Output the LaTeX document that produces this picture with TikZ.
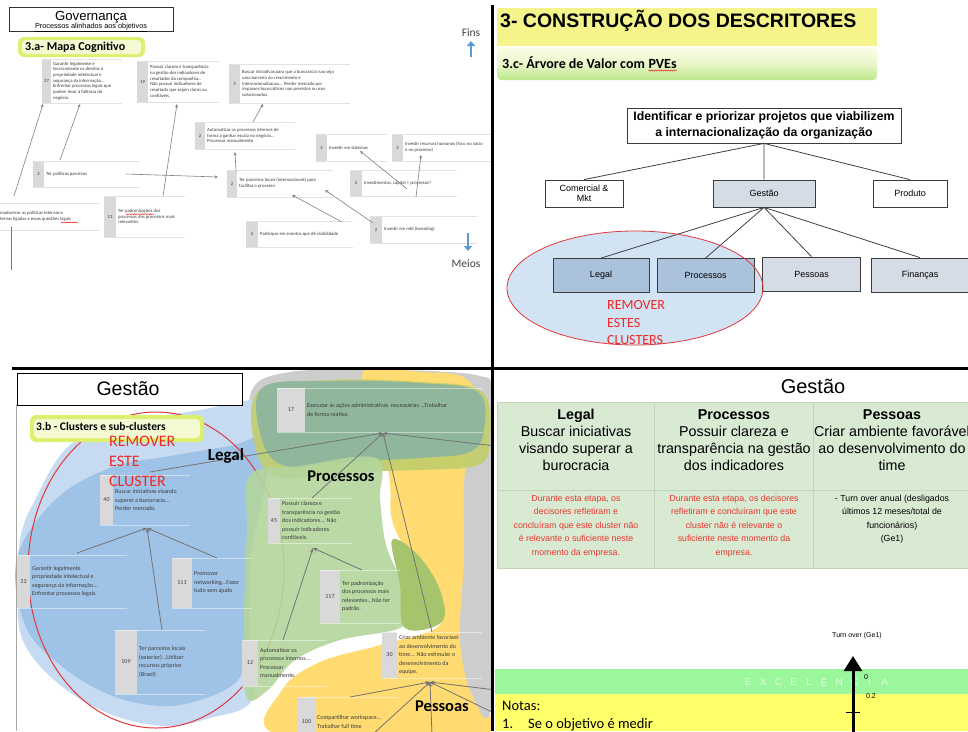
\documentclass[tikz,border=0pt]{standalone}
\usepackage{fontspec}
\setmainfont{Liberation Sans}
\newfontfamily\calfont{Carlito}
\usetikzlibrary{arrows.meta,decorations.pathmorphing}

\definecolor{cellgray}{HTML}{D9D9D9}
\definecolor{maptext}{HTML}{3A3A3A}
\definecolor{arrowgray}{HTML}{808080}
\definecolor{rowgray}{HTML}{E2E2E2}
\definecolor{finsblue}{HTML}{5B9BD5}
\definecolor{glowout}{HTML}{DDEF6E}
\definecolor{glowin}{HTML}{F6FAD2}
\definecolor{titleyellow}{HTML}{F4F48A}
\definecolor{bandtop}{HTML}{FDFDE6}
\definecolor{bandbot}{HTML}{BCE88A}
\definecolor{boxline}{HTML}{3C3C3C}
\definecolor{gestfill}{HTML}{D6DCE5}
\definecolor{gestdeep}{HTML}{ABC2DC}
\definecolor{ellfill}{HTML}{C3DAEF}
\definecolor{remred}{HTML}{F02828}
\definecolor{ellred}{HTML}{E0383A}
\definecolor{bluelight}{HTML}{C6DBF1}
\definecolor{bluemid}{HTML}{9FC3E7}
\definecolor{blobgray}{HTML}{CDCDCD}
\definecolor{pessyellow}{HTML}{FFDB72}
\definecolor{tealgreen}{HTML}{8CB6A0}
\definecolor{olivefringe}{HTML}{C2CD6C}
\definecolor{procgreen}{HTML}{B3D59C}
\definecolor{olivestrip}{HTML}{A6C46C}
\definecolor{tablegreen}{HTML}{D9EAD3}
\definecolor{tableline}{HTML}{C2D5BA}
\definecolor{notered}{HTML}{E8372F}
\definecolor{excgreen}{HTML}{9AF79B}
\definecolor{excyellow}{HTML}{FFFF6A}

\newcommand\setfs[2]{\fontsize{#1}{#2}\selectfont}
\newcommand\mapfont{\calfont\setfs{4.7}{5.7}}
% concept box of a cognitive map: name, x, y, cell width, height, number, total width, text
\newcommand\cmapbox[8]{%
  \node[mframe, minimum width=#7, minimum height=#5] (#1) at (#2,#3) {};
  \node[mcell, minimum width=#4, minimum height=#5] (#1c) at (#2,#3) {#6};
  \node[mtxt] (#1t) at ([xshift=2pt]#1c.east) {#8};
  \draw[rowline] (#1.north west) -- (#1.north east) (#1.south west) -- (#1.south east);
}

\begin{document}
\begin{tikzpicture}[x=1pt,y=-1pt,
  mframe/.style={anchor=north west, inner sep=0, outer sep=0},
  mcell/.style={anchor=north west, inner sep=0, outer sep=0, fill=cellgray, font=\mapfont, text=maptext},
  mtxt/.style={anchor=west, align=left, inner sep=0, font=\mapfont, text=maptext},
  rowline/.style={draw=rowgray, line width=.5},
  maparrow/.style={draw=arrowgray, line width=.6, -{Stealth[length=3.5pt,width=3pt]}},
  marrow/.style={draw=black!55, line width=.8, -{Stealth[length=4.5pt,width=3.5pt]}},
  finsarrow/.style={draw=finsblue, line width=2.2, -{Triangle[length=5pt,width=8pt]}},
  tbox/.style={draw=boxline, line width=.8, font=\setfs{9}{10.5}, align=center, inner sep=0, minimum height=27},
  treeline/.style={draw=black!75, line width=.8},
  clabel/.style={font=\calfont\bfseries\setfs{16.5}{18}, inner sep=0},
  remtxt/.style={anchor=base west, inner sep=0, text=remred},
  hdr/.style={align=center, font=\setfs{14.3}{17}, inner sep=0},
  cmt/.style={align=center, font=\setfs{8.8}{13.5}, inner sep=0},
  exc/.style={font=\setfs{10}{12}, text=white, opacity=.75, inner sep=0},
  divline/.style={draw=black, line width=2.5}
]
\fill[white] (0,0) rectangle (968,731);
\useasboundingbox (0,0) rectangle (968,731);

% ================= cognitive map (top left) =================
\begin{scope}
\clip (0,0) rectangle (491,367);
\node[draw=black!80, line width=.8, minimum width=164, minimum height=24, inner sep=0] (gov) at (91,19) {};
\node[font=\setfs{13.2}{15}, inner sep=0] (govt) at (91,17) {Governança};
\node[font=\setfs{7.3}{8}, inner sep=0] (govs) at (91,27.3) {\underline{Processos alinhados aos objetivos}};

\fill[glowout, rounded corners=6] (18,37) rectangle (145,57);
\fill[glowin, rounded corners=4] (22,40) rectangle (141,54);
\node[anchor=west, inner sep=0, font=\calfont\bfseries\setfs{12}{14}] (sec3a) at (25,47) {3.a- Mapa Cognitivo};

\cmapbox{A}{42}{59}{9}{44}{27}{80}{Garantir legalmente e\\tecnicamente os direitos à\\propriedade intelectual e\\segurança da informação...\\Enfrentar processos legais que\\podem levar à falência do\\negócio.}
\cmapbox{B}{137}{61}{11}{41}{19}{82}{Possuir clareza e transparência\\na gestão dos indicadores de\\resultados da companhia...\\Não possuir indicadores de\\resultado que sejam claros ou\\confiáveis.}
\cmapbox{C}{229}{64}{11}{39}{3}{121}{Buscar iniciativas para que a burocracia nao seja\\uma barreira no crescimento e\\internacionalizacao... Perder mercado por\\impasses burocráticos nao previstos ou nao\\solucionados.}
\cmapbox{D}{195}{122}{10}{27}{2}{100}{Automatizar os processos internos de\\forma a ganhar escala no negócio...\\Processar manualmente.}
\cmapbox{E}{33}{161}{11}{26}{2}{107}{Ter políticas parceiras}
\cmapbox{F}{227}{170}{10}{27}{2}{106}{Ter parceiros locais (internacionais) para\\facilitar o processo}
\cmapbox{G}{104}{196}{12}{41}{13}{81}{Ter padronizações dos\\processos dos processos mais\\relevantes.}
\cmapbox{I}{316}{134}{11}{27}{2}{71}{Investir em sistemas}
\cmapbox{J}{392}{134}{11}{27}{2}{100}{Investir recursos humanos (foco no sócio\\e no processo)}
\cmapbox{K}{246}{221}{12}{26}{2}{107}{Participar em eventos que dê visibilidade}
\cmapbox{L}{370}{216}{12}{27}{2}{107}{Investir em mkt (branding)}
\cmapbox{M}{350}{170}{12}{26}{2}{107}{Investimentos, capital + processos?}
\node[mframe, minimum width=102, minimum height=27] (H) at (-2,203) {};
\node[mtxt] (Ht) at (0,216.5) {madurecer as políticas internas e\\ternas ligadas a essas questões legais};
\draw[rowline] (H.north west) -- (H.north east) (H.south west) -- (H.south east);

% spell-check marks
\draw[remred, line width=.4, decorate, decoration={snake, amplitude=.4pt, segment length=1.6pt}] ([shift={(8,5.2)}]Gt.north west) -- ([shift={(36,5.2)}]Gt.north west);
\draw[remred, line width=.4, decorate, decoration={snake, amplitude=.4pt, segment length=1.6pt}] ([shift={(61,11)}]Ht.north west) -- ([shift={(78,11)}]Ht.north west);

\draw[maparrow] ([shift={(16,-7)}]H.north west) -- ([shift={(1,1)}]A.south west);
\draw[maparrow] ([shift={(27,-1)}]E.north west) -- ([shift={(38,1)}]A.south west);
\draw[maparrow] ([shift={(59,0)}]G.north west) -- ([shift={(40,2)}]B.south west);
\draw[maparrow] ([shift={(93,13)}]E.north west) -- ([shift={(-9,7)}]F.north west);
\draw[maparrow] ([shift={(9,1)}]F.north west) -- ([shift={(40,3)}]D.south west);
\draw[maparrow] ([shift={(58,0)}]D.north west) -- ([shift={(34,1)}]C.south west);
\draw[maparrow] ([shift={(96,1)}]K.north west) -- ([shift={(65,-2)}]F.south west);
\draw[maparrow] ([shift={(3,7)}]L.north west) -- ([shift={(98,-7)}]F.south west);
\draw[maparrow] ([shift={(57,19)}]M.north west) -- ([shift={(44,-10)}]I.south west);
\draw[maparrow] ([shift={(66,1)}]M.south west) -- ([shift={(29,-6)}]J.south west);

\coordinate (lb0) at (11,227);
\coordinate (lb1) at (11,270);
\draw[black!55, line width=.6] (lb0) -- (lb1);

\node[font=\calfont\setfs{11.5}{13}, text=black!75, inner sep=0] (fins) at (471,33) {Fins};
\coordinate (fa0) at (471,57);
\coordinate (fa1) at (471,41);
\draw[finsarrow] (fa0) -- (fa1);
\node[font=\calfont\setfs{11.5}{13}, text=black!75, inner sep=0] (meios) at (466,264) {Meios};
\coordinate (ma0) at (468,233);
\coordinate (ma1) at (468,251);
\draw[finsarrow] (ma0) -- (ma1);
\end{scope}

% ================= value tree (top right) =================
\fill[titleyellow] (497,8) rectangle (877,46);
\shade[top color=bandtop, bottom color=bandbot, middle color=bandtop!70!bandbot, rounded corners=4] (497,47) rectangle (877,80);
\node[anchor=base west, inner sep=0, font=\bfseries\setfs{19.5}{22}] (ttl) at (500,27) {3- CONSTRUÇÃO DOS DESCRITORES};
\node[anchor=base west, inner sep=0, font=\calfont\bfseries\setfs{14}{16}] (sub) at (502,68) {3.c- Árvore de Valor com};
\node[anchor=base west, inner sep=0, font=\calfont\bfseries\setfs{14}{16}] (pve) at ([xshift=3.2pt]sub.base east) {PVEs};
\draw[remred, line width=.5, decorate, decoration={snake, amplitude=.6pt, segment length=2.2pt}] ([yshift=-2.5pt]pve.base west) -- ([yshift=-2.5pt]pve.base east);

% the removed clusters are ringed by a tinted ellipse
\fill[ellfill, opacity=.75] (635,288) ellipse [x radius=128pt, y radius=57pt];

\node[tbox, font=\bfseries\setfs{12.3}{16}, minimum width=274, minimum height=35] (goal) at (764,125.5) {Identificar e priorizar projetos que viabilizem\\a internacionalização da organização};
\node[tbox, fill=white, minimum width=78] (com) at (584,193.5) {Comercial \&\\Mkt};
\node[tbox, fill=gestfill, minimum width=102] (gest) at (764,193.5) {Gestão};
\node[tbox, fill=white, minimum width=74] (prod) at (910,193.5) {Produto};
\node[tbox, fill=gestdeep, minimum width=96, minimum height=34] (legal) at (601,275.5) {Legal};
\node[tbox, fill=gestdeep, minimum width=97, minimum height=34] (proc) at (705.5,275.5) {Processos};
\node[tbox, fill=gestfill, minimum width=98, minimum height=34] (pess) at (811.5,274) {Pessoas};
\node[tbox, fill=gestfill, minimum width=97, minimum height=34] (fin) at (920,275) {Finanças};
\draw[treeline] (goal.south) -- (com.north) (goal.south) -- (gest.north) (goal.south) -- (prod.north);
\draw[treeline] (gest.south) -- (legal.north) (gest.south) -- (proc.north) (gest.south) -- (pess.north) (gest.south) -- (fin.north);
\draw[ellred, line width=.8] (635,288) ellipse [x radius=128pt, y radius=57pt];
\node[remtxt, font=\calfont\setfs{14}{16}] (rmA) at (607,309) {REMOVER};
\node[remtxt, font=\calfont\setfs{14}{16}] (rmB) at (607,327) {ESTES};
\node[remtxt, font=\calfont\setfs{14}{16}] (rmC) at (607,344) {CLUSTERS};

% ================= clusters (bottom left) =================
\begin{scope}
\renewcommand\mapfont{\calfont\setfs{6}{8.5}}
\tikzset{rowline/.style={draw=white, opacity=.45, line width=.5}}
\clip (12,369) rectangle (491,731);
\fill[blobgray] plot[smooth cycle, tension=.6] coordinates {(252,390) (290,372) (360,370) (430,371) (480,376) (492,390) (492,470) (470,468) (400,470) (300,472) (255,450)};
\fill[pessyellow] plot[smooth cycle, tension=.6] coordinates {(362,374) (420,372) (470,382) (480,440) (474,520) (468,620) (470,690) (488,735) (280,735) (282,690) (320,662) (380,645) (440,625) (436,585) (410,555) (392,520) (388,470)};
\fill[blobgray] plot[smooth cycle, tension=.6] coordinates {(466,468) (492,455) (492,700) (472,695) (460,640) (464,560)};
\fill[bluelight] plot[smooth cycle, tension=.6] coordinates {(35,500) (70,445) (130,422) (200,410) (250,400) (285,395) (275,450) (258,500) (250,560) (250,640) (252,700) (210,718) (165,726) (110,714) (60,685) (25,645) (17,600) (20,540)};
\fill[bluemid] plot[smooth cycle, tension=.6] coordinates {(17,558) (55,500) (110,468) (170,456) (230,446) (270,438) (262,500) (250,560) (248,640) (238,680) (200,700) (160,706) (110,695) (60,665) (25,625)};
\draw[ellred, line width=1] (156,570) ellipse [x radius=128pt, y radius=158pt];
\fill[olivefringe, opacity=.9] plot[smooth cycle, tension=.6] coordinates {(258,392) (330,380) (420,382) (482,392) (490,440) (478,465) (420,470) (340,472) (280,478) (256,450)};
\fill[tealgreen, opacity=.92] plot[smooth cycle, tension=.6] coordinates {(262,388) (330,381) (420,383) (478,392) (484,430) (470,452) (420,458) (340,462) (285,466) (262,440)};
\fill[procgreen, opacity=.9] plot[smooth cycle, tension=.6] coordinates {(250,475) (300,466) (376,458) (380,500) (386,545) (402,585) (405,625) (340,640) (295,660) (268,690) (246,696) (244,620) (247,530)};
\fill[olivestrip] plot[smooth cycle, tension=.6] coordinates {(392,540) (418,555) (440,590) (442,622) (405,628) (400,585)};

\coordinate (bl0) at (16.5,405);
\coordinate (bl1) at (16.5,731);
\draw[black!35, line width=.8] (bl0) -- (bl1);

\node[draw=black, line width=.8, fill=white, minimum width=225, minimum height=32, inner sep=0] (gbl) at (129.5,389) {};
\node[font=\setfs{19.5}{22}, inner sep=0] (gblt) at (128,389) {Gestão};

\fill[glowout, rounded corners=6] (30,415) rectangle (204,442);
\fill[glowin, rounded corners=4] (34,419) rectangle (200,438);
\node[anchor=west, inner sep=0, font=\calfont\bfseries\setfs{11.5}{13}] (sec3b) at (36,426) {3.b - Clusters e sub-clusters};

\cmapbox{N17}{277}{388}{28}{44}{17}{206}{Executar as ações administrativas\ \ necessárias ...Trabalhar\\de forma reativa.}
\cmapbox{N40}{100}{475}{13}{50}{40}{90}{Buscar iniciativas visando\\superar a burocracia...\\Perder mercado.}
\cmapbox{N45}{268}{498}{12}{45}{45}{85}{Possuir clareza e\\transparência na gestão\\dos indicadores... Não\\possuir indicadores\\confiáveis.}
\cmapbox{N33}{17}{555}{13}{53}{33}{110}{Garantir legalmente\\propriedade intelectual e\\segurança da informação...\\Enfrentar processos legais.}
\cmapbox{N111}{172}{558}{20}{50}{111}{80}{Promover\\networking...Fazer\\tudo sem ajuda}
\cmapbox{N109}{115}{630}{22}{64}{109}{90}{Ter parceiros locais\\(exterior)...Utilizar\\recursos próprios\\(Brasil)}
\cmapbox{N117}{320}{570}{20}{53}{117}{80}{Ter padronização\\dos processos mais\\relevantes...Não ter\\padrão.}
\cmapbox{N12}{242}{640}{16}{46}{12}{85}{Automatizar os\\processos internos...\\Processar\\manualmente.}
\cmapbox{N30}{382}{632}{15}{46}{30}{100}{Criar ambiente favorável\\ao desenvolvimento do\\time... Não estimular o\\desenvolvimento da\\equipe.}
\cmapbox{N100}{298}{697}{17}{50}{100}{100}{Compartilhar workspace...\\Trabalhar full time}

\coordinate (r17) at (496,446);
\coordinate (q1) at (372,735);
\coordinate (q2) at (432,735);
\coordinate (q3) at (496,690);
\coordinate (q4) at (496,714);
\draw[marrow] ([shift={(50,-3)}]N40.north west) -- ([shift={(106,1)}]N17.south west);
\draw[marrow] ([shift={(44,0)}]N45.north west) -- ([shift={(106,1)}]N17.south west);
\draw[marrow] ([shift={(50,0)}]N30.north west) -- ([shift={(106,1)}]N17.south west);
\draw[marrow] (r17) -- ([shift={(106,1)}]N17.south west);
\draw[marrow] ([shift={(60,-2)}]N33.north west) -- ([shift={(47,3)}]N40.south west);
\draw[marrow] ([shift={(47,0)}]N109.north west) -- ([shift={(47,3)}]N40.south west);
\draw[marrow] ([shift={(45,0)}]N111.north west) -- ([shift={(47,3)}]N40.south west);
\draw[marrow] ([shift={(42,0)}]N117.north west) -- ([shift={(45,5)}]N45.south west);
\draw[marrow] ([shift={(41,0)}]N12.north west) -- ([shift={(45,5)}]N45.south west);
\draw[marrow] ([shift={(52,0)}]N100.north west) -- ([shift={(48,4)}]N30.south west);
\draw[marrow] (q1) -- ([shift={(48,4)}]N30.south west);
\draw[marrow] (q2) -- ([shift={(48,4)}]N30.south west);
\draw[marrow] (q3) -- ([shift={(48,4)}]N30.south west);
\draw[marrow] (q4) -- ([shift={(48,4)}]N30.south west);

\node[clabel, font=\calfont\bfseries\setfs{17}{19}] (lglab) at (226,456) {Legal};
\node[clabel] (prlab) at (341,476) {Processos};
\node[clabel] (pelab) at (442,706) {Pessoas};
\node[remtxt, font=\calfont\setfs{16}{18}] (reA) at (109,446) {REMOVER};
\node[remtxt, font=\calfont\setfs{16}{18}] (reB) at (109,466) {ESTE};
\node[remtxt, font=\calfont\setfs{16}{18}] (reC) at (109,486) {CLUSTER};
\end{scope}

% ================= descriptors table (bottom right) =================
\begin{scope}
\clip (493,369) rectangle (968,731);
\node[font=\setfs{20}{24}, inner sep=0] (gbr) at (813,386) {Gestão};
\fill[tablegreen] (497,402) rectangle (968,568);
\draw[tableline, line width=.8] (497,402) rectangle (970,568);
\draw[tableline, line width=.8] (654,402) -- (654,568) (813,402) -- (813,568) (497,490) -- (970,490);
\node[hdr] (h1) at (576,440) {\textbf{Legal}\\Buscar iniciativas\\visando superar a\\burocracia};
\node[hdr] (h2) at (734,440) {\textbf{Processos}\\Possuir clareza e\\transparência na gestão\\dos indicadores};
\node[hdr] (h3) at (892,440) {\textbf{Pessoas}\\Criar ambiente favorável\\ao desenvolvimento do\\time};
\node[cmt, text=notered] (c1) at (576,526) {Durante esta etapa, os\\decisores refletiram e\\concluíram que este cluster não\\é relevante o suficiente neste\\momento da empresa.};
\node[cmt, text=notered] (c2) at (734,526) {Durante esta etapa, os decisores\\refletiram e concluíram que este\\cluster não é relevante o\\suficiente neste momento da\\empresa.};
\node[cmt] (c3) at (892,519) {- Turn over anual (desligados\\últimos 12 meses/total de\\funcionários)\\(Ge1)};

\node[font=\setfs{7}{8}, inner sep=0] (tov) at (857,636) {Turn over (Ge1)};
\fill[excgreen] (495,669) rectangle (968,694);
\fill[excyellow] (495,694) rectangle (968,731);
\foreach \ch [count=\i] in {E,X,C,E,L,Ê,N,C,I,A}
  \node[exc] (exc\i) at ({748+15.2*(\i-1)},682) {\ch};
\coordinate (axb) at (853,735);
\coordinate (axt) at (853,656);
\draw[line width=3, -{Triangle[length=15pt,width=18pt]}] (axb) -- (axt);
\coordinate (tk0) at (846,712);
\coordinate (tk1) at (860,712);
\draw[line width=1] (tk0) -- (tk1);
\node[font=\setfs{7}{8}, inner sep=0] (t0) at (866,677) {0};
\node[font=\setfs{7}{8}, inner sep=0] (t02) at (871,696) {0.2};
\node[anchor=base west, inner sep=0, font=\calfont\setfs{14.5}{16}] (notas) at (502,710) {Notas:};
\node[anchor=base west, inner sep=0, font=\calfont\setfs{14.5}{16}] (n1) at (502,728) {1.};
\node[anchor=base west, inner sep=0, font=\calfont\setfs{14.5}{16}] (n1t) at (528,728) {Se o objetivo é medir};
\end{scope}

% ================= dividers =================
\coordinate (dv0) at (492.5,5);
\coordinate (dv1) at (492.5,731);
\coordinate (dh0) at (12,368.5);
\coordinate (dh1) at (968,368.5);
\draw[divline] (dv0) -- (dv1);
\draw[divline] (dh0) -- (dh1);
\end{tikzpicture}
\end{document}
